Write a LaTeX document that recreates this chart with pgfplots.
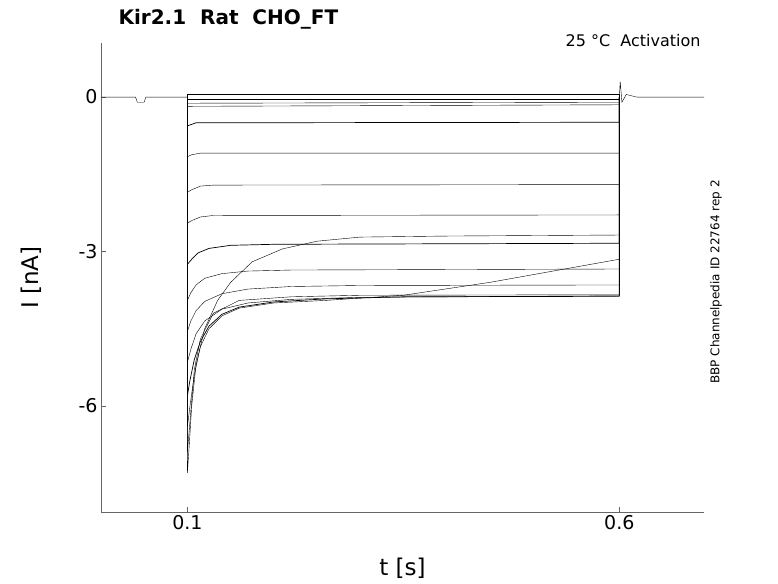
\documentclass[border=0pt]{standalone}
\usepackage{pgfplots}
\pgfplotsset{compat=1.18}
\usepackage{fontspec}
\setmainfont{DejaVu Sans}
\begin{document}
\begin{tikzpicture}
\useasboundingbox (-101pt,-71pt) rectangle (677pt,512pt);
\begin{axis}[at={(0,0)},anchor=south west,scale only axis,width=603pt,height=469pt,
 xmin=0,xmax=0.698,ymin=-8.06,ymax=1.05,
 axis x line*=bottom, axis y line*=left, axis line style={draw=black!60,-},
 xtick={0.1,0.6}, ytick={0,-3,-6}, tick align=inside, major tick length=5pt,
 tick style={black!60},
 /pgf/number format/assume math mode=true,
 ticklabel style={font=\fontsize{19}{22}\selectfont},
 xlabel={t [s]}, ylabel={I [nA]},
 label style={font=\fontsize{23}{26}\selectfont},
 ylabel style={at={(axis description cs:-0.093,0.5)}},
 xlabel style={at={(axis description cs:0.5,-0.09)}},
 clip=false, cycle list={{black,solid,line width=0.7pt,mark=none}}]
% holding and tail
\addplot coordinates {(0,0) (0.04,0) (0.042,-0.1) (0.05,-0.1) (0.052,0) (0.1,0)};
\addplot coordinates {(0.6,0) (0.601,0.3) (0.603,-0.1) (0.608,0.05) (0.62,0) (0.698,0)};
% steady traces
\addplot coordinates {(0.1,0) (0.1,0.05) (0.6,0.05) (0.6,0)};
\addplot coordinates {(0.1,0) (0.1,-0.05) (0.6,-0.05) (0.6,0)};
\addplot coordinates {(0.1,0) (0.1,-0.12) (0.6,-0.1) (0.6,0)};
\addplot coordinates {(0.1,0) (0.1,-0.18) (0.6,-0.15) (0.6,0)};
\addplot coordinates {(0.1,0) (0.1,-0.56) (0.11,-0.5) (0.6,-0.49) (0.6,0)};
\addplot coordinates {(0.1,0) (0.1,-1.16) (0.105,-1.12) (0.115,-1.09) (0.6,-1.09) (0.6,0)};
\addplot coordinates {(0.1,0) (0.1,-1.85) (0.105,-1.8) (0.115,-1.73) (0.13,-1.71) (0.6,-1.70) (0.6,0)};
\addplot coordinates {(0.1,0) (0.1,-2.45) (0.105,-2.4) (0.115,-2.33) (0.13,-2.3) (0.6,-2.29) (0.6,0)};
\addplot coordinates {(0.1,0) (0.1,-3.25) (0.105,-3.15) (0.112,-3.03) (0.125,-2.94) (0.15,-2.88) (0.2,-2.86) (0.6,-2.84) (0.6,0)};
\addplot coordinates {(0.1,0) (0.1,-3.95) (0.104,-3.8) (0.11,-3.65) (0.12,-3.52) (0.14,-3.43) (0.17,-3.38) (0.22,-3.36) (0.6,-3.34) (0.6,0)};
\addplot coordinates {(0.1,0) (0.1,-4.55) (0.104,-4.35) (0.11,-4.15) (0.12,-3.97) (0.14,-3.82) (0.17,-3.73) (0.22,-3.68) (0.3,-3.66) (0.6,-3.65) (0.6,0)};
\addplot coordinates {(0.1,0) (0.1,-5.15) (0.104,-4.9) (0.11,-4.6) (0.12,-4.35) (0.14,-4.12) (0.17,-4.0) (0.22,-3.93) (0.3,-3.89) (0.6,-3.86) (0.6,0)};
\addplot coordinates {(0.1,0) (0.1,-5.8) (0.103,-5.5) (0.108,-5.1) (0.115,-4.75) (0.125,-4.45) (0.14,-4.22) (0.16,-4.08) (0.2,-3.98) (0.26,-3.92) (0.35,-3.88) (0.6,-3.87) (0.6,0)};
\addplot coordinates {(0.1,0) (0.1,-6.4) (0.103,-6.0) (0.108,-5.4) (0.115,-4.85) (0.125,-4.5) (0.14,-4.25) (0.16,-4.1) (0.2,-4.0) (0.26,-3.95) (0.35,-3.85) (0.45,-3.6) (0.55,-3.3) (0.6,-3.15) (0.6,0)};
\addplot coordinates {(0.1,0) (0.1,-7.3) (0.102,-6.8) (0.105,-6.0) (0.11,-5.2) (0.12,-4.5) (0.135,-3.95) (0.15,-3.6) (0.175,-3.2) (0.21,-2.95) (0.25,-2.8) (0.3,-2.72) (0.4,-2.7) (0.6,-2.68) (0.6,0)};
\addplot coordinates {(0.1,0) (0.1,-6.9) (0.103,-6.3) (0.108,-5.3) (0.115,-4.7) (0.13,-4.2) (0.16,-3.95) (0.22,-3.88) (0.3,-3.85) (0.6,-3.84) (0.6,0)};
\end{axis}
\node[anchor=west,font=\fontsize{20}{24}\selectfont\bfseries] at (14pt,493pt) {Kir2.1\ \ Rat\ \ CHO\_FT};
\node[anchor=east,font=\fontsize{16}{19}\selectfont] at (603pt,471pt) {25 °C\ \ Activation};
\node[rotate=90,font=\fontsize{12}{14}\selectfont] at (615pt,230pt) {BBP Channelpedia ID 22764 rep 2};
\end{tikzpicture}
\end{document}
